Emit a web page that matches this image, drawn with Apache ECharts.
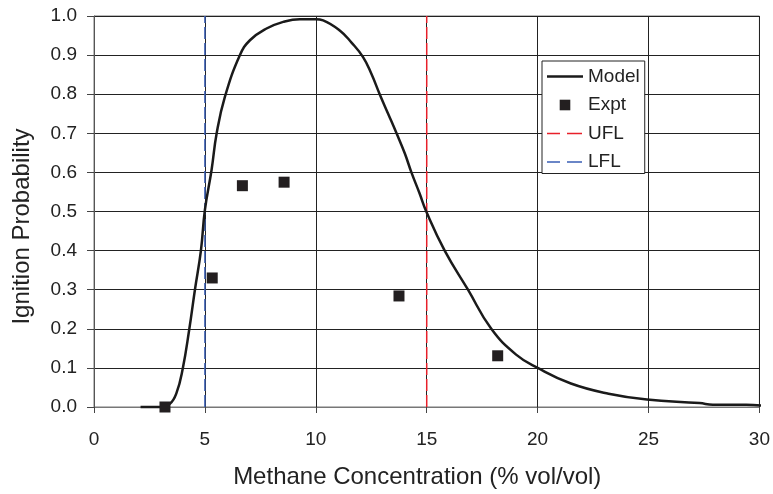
<!DOCTYPE html>
<html>
<head>
<meta charset="utf-8">
<script src="https://cdn.jsdelivr.net/npm/echarts@6/dist/echarts.min.js"></script>
<style>
  html, body { margin: 0; padding: 0; background: #fff; }
  #chart { width: 773px; height: 494px; }
</style>
</head>
<body>
<div id="chart"></div>
<script>
// 模型曲线 (读取自原图)
var modelX = [2.1, 2.97, 3.42, 3.72, 4.0, 4.29, 4.55, 4.82, 5.0, 5.3, 5.53, 5.9, 6.58, 7.03, 7.78, 8.53, 9.28, 10.0, 10.33, 11.08, 11.61, 12.13, 12.5, 12.88, 13.26, 13.64, 14.01, 14.31, 14.68, 14.98, 15.81, 16.86, 17.91, 19.03, 20.0, 21.5, 23.2, 24.93, 27.3, 27.9, 29.4, 30.3];
var modelY = [0, 0, 0.008, 0.036, 0.098, 0.197, 0.30, 0.40, 0.504, 0.606, 0.70, 0.793, 0.90, 0.938, 0.968, 0.985, 0.992, 0.992, 0.989, 0.963, 0.932, 0.895, 0.853, 0.80, 0.75, 0.70, 0.649, 0.60, 0.546, 0.50, 0.40, 0.30, 0.20, 0.134, 0.10, 0.06, 0.034, 0.019, 0.01, 0.006, 0.006, 0.002];
// 实验点
var exptX = [3.2, 5.33, 6.69, 8.57, 13.75, 18.2];
var exptY = [0.0, 0.33, 0.566, 0.575, 0.284, 0.131];
// 可燃极限
var uflX = 15;
var lflX = 5;
var limitY = [0, 1];

var xTicks = [0, 5, 10, 15, 20, 25, 30];

function pairs(xs, ys) {
    var out = [];
    for (var i = 0; i < xs.length; i++) {
        out.push([xs[i], ys[i]]);
    }
    return out;
}

// 图例图标 (36x14)
var iconLine = 'path://M0 0M36 14M0 5.75H36V8.25H0Z';
var iconDash = 'path://M0 0M36 14M0 6.25H13V7.75H0Z M20 6.25H35V7.75H20Z';
var iconSquare = 'path://M0 0M36 14M12.7 1.7H23.3V12.3H12.7Z';

var dom = document.getElementById('chart');
var myChart = echarts.init(dom, null, { renderer: 'canvas' });
var fontName = 'Liberation Sans, Arial, sans-serif';

var option = {
    animation: false,
    grid: {
        left: 94, right: 13, top: 16, bottom: 87,
        show: true, borderColor: '#777', borderWidth: 1
    },
    legend: {
        orient: 'vertical',
        left: 542, top: 61,
        backgroundColor: '#fff',
        borderColor: '#222', borderWidth: 1,
        padding: [6, 5, 2, 5],
        itemWidth: 36, itemHeight: 14, itemGap: 9.5,
        textStyle: { fontFamily: fontName, fontSize: 19, color: '#222' },
        data: [
            { name: 'Model', icon: iconLine },
            { name: 'Expt', icon: iconSquare },
            { name: 'UFL', icon: iconDash },
            { name: 'LFL', icon: iconDash }
        ]
    },
    xAxis: {
        type: 'value',
        min: xTicks[0], max: xTicks[xTicks.length - 1], interval: 5,
        name: 'Methane Concentration (% vol/vol)',
        nameLocation: 'middle', nameGap: 58,
        nameTextStyle: { fontFamily: fontName, fontSize: 24, color: '#222', padding: [0, 19, 0, 0] },
        axisLine: { lineStyle: { color: '#777' } },
        axisTick: { show: true, length: 6, lineStyle: { color: '#444' } },
        axisLabel: { fontFamily: fontName, fontSize: 19, color: '#222', margin: 23 },
        splitLine: { show: true, lineStyle: { color: '#222', width: 1 } }
    },
    yAxis: {
        type: 'value',
        min: 0, max: 1, interval: 0.1,
        name: 'Ignition Probability',
        nameLocation: 'middle', nameGap: 60,
        nameTextStyle: { fontFamily: fontName, fontSize: 24, color: '#222', padding: [0, 30, 0, 0] },
        axisLine: { show: true, lineStyle: { color: '#555' } },
        axisTick: { show: true, length: 7, lineStyle: { color: '#444' } },
        axisLabel: {
            fontFamily: fontName, fontSize: 19, color: '#222', margin: 17,
            formatter: function (v) { return v.toFixed(1); }
        },
        splitLine: { show: true, lineStyle: { color: '#222', width: 1 } }
    },
    series: [
        {
            name: 'Model', type: 'line',
            data: pairs(modelX, modelY),
            showSymbol: false, symbol: 'none',
            smooth: 0.45,
            clip: false,
            lineStyle: { color: '#1a1a1a', width: 2.5 },
            itemStyle: { color: '#1a1a1a' },
            z: 4
        },
        {
            name: 'Expt', type: 'scatter',
            data: pairs(exptX, exptY),
            symbol: 'rect', symbolSize: 11,
            clip: false,
            itemStyle: { color: '#231f20', opacity: 1 },
            z: 5
        },
        {
            name: 'UFL', type: 'line',
            data: [[uflX, limitY[0]], [uflX, limitY[1]]],
            symbol: 'none',
            lineStyle: { color: '#e8202a', width: 1.5, type: [12, 4] },
            itemStyle: { color: '#e8202a' },
            z: 3
        },
        {
            name: 'LFL', type: 'line',
            data: [[lflX, limitY[0]], [lflX, limitY[1]]],
            symbol: 'none',
            lineStyle: { color: '#3a5fb5', width: 1.5, type: [12, 4] },
            itemStyle: { color: '#3a5fb5' },
            z: 3
        }
    ]
};
myChart.setOption(option);
</script>
</body>
</html>
